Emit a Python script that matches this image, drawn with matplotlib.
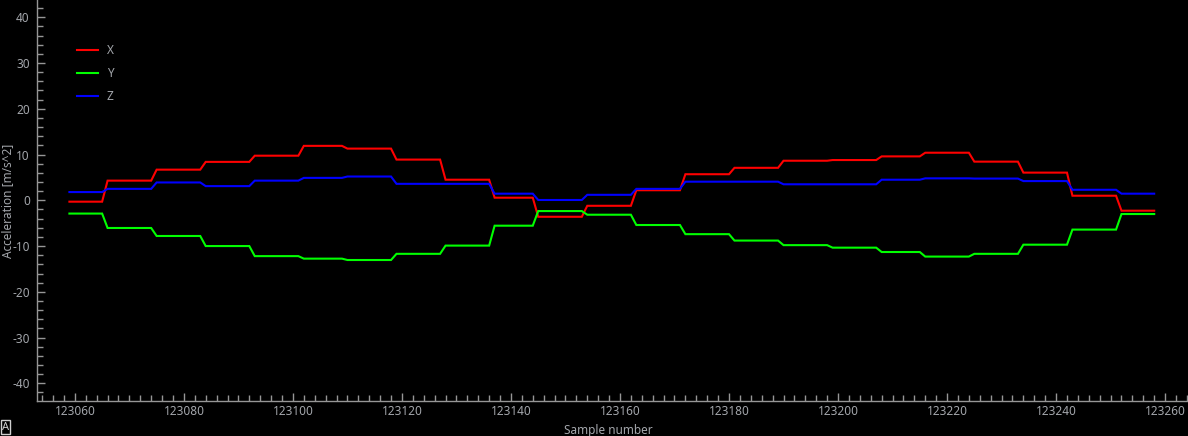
import numpy as np
import matplotlib
matplotlib.use("Agg")
import matplotlib.pyplot as plt
from matplotlib.ticker import MultipleLocator

# sample numbers where each held level starts / ends
seg_start = [123059, 123066, 123075, 123084, 123093, 123102, 123110, 123119,
             123128, 123137, 123145, 123154, 123163, 123172, 123181, 123190,
             123199, 123208, 123216, 123225, 123234, 123243, 123252]
seg_end = [123065, 123074, 123083, 123092, 123101, 123109, 123118, 123127,
           123136, 123144, 123153, 123162, 123171, 123180, 123189, 123198,
           123207, 123215, 123224, 123233, 123242, 123251, 123258]

acc_x = [-0.3, 4.3, 6.7, 8.4, 9.75, 11.9, 11.3, 8.9, 4.5, 0.57, -3.6, -1.2,
         2.2, 5.7, 7.1, 8.65, 8.8, 9.6, 10.4, 8.45, 6.05, 1.0, -2.27]
acc_y = [-2.9, -6.05, -7.8, -10.0, -12.2, -12.75, -13.05, -11.7, -9.9, -5.55,
         -2.35, -3.15, -5.4, -7.4, -8.8, -9.8, -10.35, -11.3, -12.3, -11.7,
         -9.7, -6.4, -3.0]
acc_z = [1.8, 2.5, 3.9, 3.1, 4.3, 4.9, 5.2, 3.6, 3.6, 1.45, 0.07, 1.2,
         2.5, 4.07, 4.07, 3.5, 3.5, 4.5, 4.8, 4.75, 4.2, 2.3, 1.45]

labels = ["X", "Y", "Z"]
colors = ["#ff0000", "#00ff00", "#0000ff"]

fg = "#969696"
txt = "#a3a6ab"

plt.rcParams['font.family'] = ['Noto Sans', 'DejaVu Sans']
plt.rcParams['axes.unicode_minus'] = False

fig = plt.figure(figsize=(11.88, 4.36), dpi=100, facecolor="black")
ax = fig.add_axes([0.0309, 0.0796, 0.9691, 0.9204], facecolor="black")

# hold each level from start to end sample, straight line to the next one
xs = np.ravel(np.column_stack([seg_start, seg_end]))
for vals, lab, c in zip([acc_x, acc_y, acc_z], labels, colors):
    ys = np.repeat(vals, 2)
    ax.plot(xs, ys, color=c, lw=1.5, label=lab, solid_joinstyle="miter")

ax.set_xlim(123053.0, 123264.2)
ax.set_ylim(-43.93, 43.78)

ax.xaxis.set_major_locator(MultipleLocator(20))
ax.xaxis.set_minor_locator(MultipleLocator(2))
ax.yaxis.set_major_locator(MultipleLocator(10))
ax.yaxis.set_minor_locator(MultipleLocator(2))

for s in ["top", "right"]:
    ax.spines[s].set_visible(False)
for s in ["left", "bottom"]:
    ax.spines[s].set_color(fg)
    ax.spines[s].set_linewidth(1.0)

ax.tick_params(which="major", direction="in", length=6, width=1, color=fg,
               labelcolor=txt, labelsize=8.5, pad=3)
ax.tick_params(which="minor", direction="in", length=4, width=1, color=fg)
ax.tick_params(axis="y", which="major", pad=5)

fig.text(0.0005, 0.539, "Acceleration [m/s^2]", rotation=90, color=txt,
         fontsize=8.5, ha="left", va="center")
fig.text(0.512, 0.013, "Sample number", color=txt, fontsize=8.5,
         ha="center", va="center")
fig.text(0.0015, 0.008, "A", color="#cfcfcf", fontsize=8, fontweight="bold",
         ha="left", va="bottom",
         bbox=dict(boxstyle="square,pad=0.1", fc="black", ec="#cfcfcf", lw=1))

leg = ax.legend(loc="upper left", bbox_to_anchor=(0.031, 0.902),
                frameon=False, fontsize=8.5, handlelength=1.8,
                handletextpad=0.7, labelspacing=0.85, borderaxespad=0)
for t in leg.get_texts():
    t.set_color(txt)

fig.savefig("out.png", dpi=100, facecolor="black")
